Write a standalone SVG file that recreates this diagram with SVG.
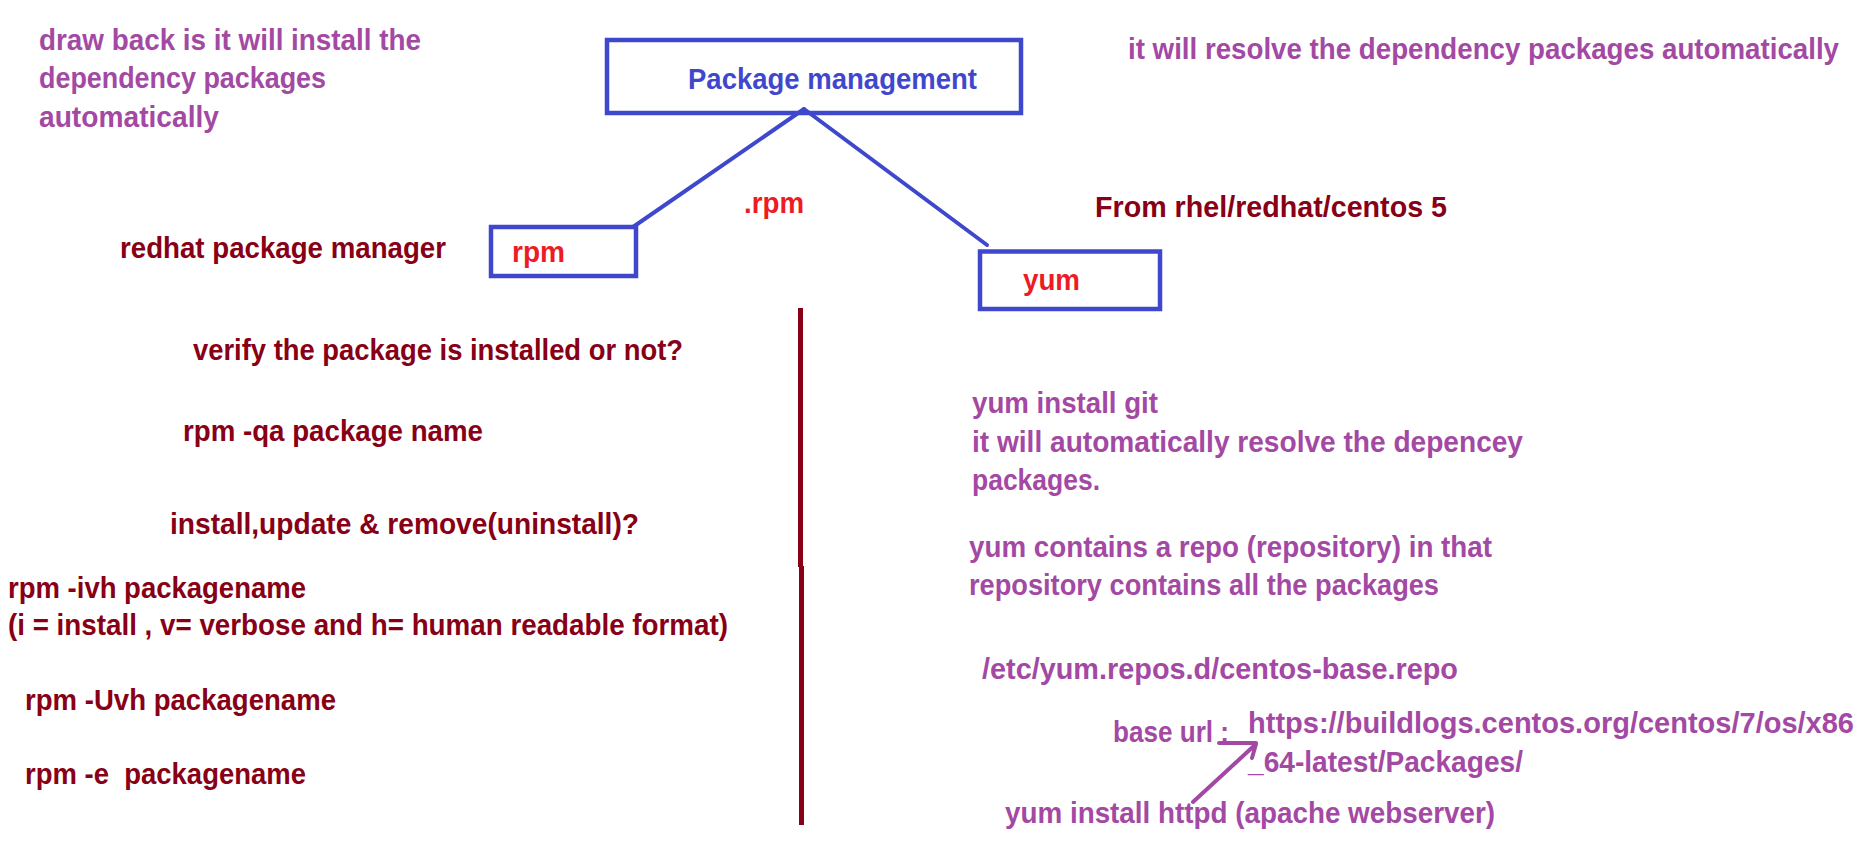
<svg xmlns="http://www.w3.org/2000/svg" width="1871" height="847" viewBox="0 0 1871 847">
<style>
text{font-family:"Liberation Sans",Arial,sans-serif;font-weight:bold;font-size:29px;white-space:pre}
.pu{fill:#A349A4}
.bl{fill:#3F48CC}
.dr{fill:#880015}
.rd{fill:#ED1C24}
.box{fill:none;stroke:#3F48CC;stroke-width:4.5}
.conn{stroke:#3F48CC;stroke-width:4;stroke-linecap:round;fill:none}
.vline{stroke:#880015;stroke-width:5;fill:none}
.arrow{stroke:#A349A4;stroke-width:4;stroke-linecap:round;fill:none}
</style>
<rect width="1871" height="847" fill="#ffffff"/>
<g id="connectors">
<line class="conn" x1="804" y1="109" x2="633" y2="227"/>
<line class="conn" x1="804" y1="109" x2="987" y2="245"/>
<line class="vline" x1="800.5" y1="308" x2="800.5" y2="567"/>
<line class="vline" x1="801.5" y1="566" x2="801.5" y2="825"/>
<path class="arrow" d="M1193 802 L1256 744 M1219 743 L1256 743 M1256 744 L1252 758"/>
</g>
<g id="note-drawback">
<text class="pu" x="39" y="50" textLength="382" lengthAdjust="spacingAndGlyphs">draw back is it will install the</text>
<text class="pu" x="39" y="88" textLength="287" lengthAdjust="spacingAndGlyphs">dependency packages</text>
<text class="pu" x="39" y="127" textLength="180" lengthAdjust="spacingAndGlyphs">automatically</text>
</g>
<g id="node-package-management">
<rect class="box" x="607" y="40" width="414" height="73"/>
<text class="bl" x="688" y="89" textLength="289" lengthAdjust="spacingAndGlyphs">Package management</text>
</g>
<g id="note-resolve">
<text class="pu" x="1128" y="59" textLength="711" lengthAdjust="spacingAndGlyphs">it will resolve the dependency packages automatically</text>
</g>
<g id="label-redhat">
<text class="dr" x="120" y="258" textLength="326" lengthAdjust="spacingAndGlyphs">redhat package manager</text>
</g>
<g id="node-rpm">
<rect class="box" x="491" y="227" width="145" height="49"/>
<text class="rd" x="512" y="262" textLength="53" lengthAdjust="spacingAndGlyphs">rpm</text>
</g>
<g id="label-dotrpm">
<text class="rd" x="744" y="213" textLength="60" lengthAdjust="spacingAndGlyphs">.rpm</text>
</g>
<g id="label-from">
<text class="dr" x="1095" y="217" textLength="352" lengthAdjust="spacingAndGlyphs">From rhel/redhat/centos 5</text>
</g>
<g id="node-yum">
<rect class="box" x="980" y="251.5" width="180" height="57.5"/>
<text class="rd" x="1023" y="290" textLength="57" lengthAdjust="spacingAndGlyphs">yum</text>
</g>
<g id="rpm-notes">
<text class="dr" x="193" y="360" textLength="490" lengthAdjust="spacingAndGlyphs">verify the package is installed or not?</text>
<text class="dr" x="183" y="441" textLength="300" lengthAdjust="spacingAndGlyphs">rpm -qa package name</text>
<text class="dr" x="170" y="534" textLength="469" lengthAdjust="spacingAndGlyphs">install,update &amp; remove(uninstall)?</text>
<text class="dr" x="8" y="598" textLength="298" lengthAdjust="spacingAndGlyphs">rpm -ivh packagename</text>
<text class="dr" x="8" y="635" textLength="720" lengthAdjust="spacingAndGlyphs">(i = install , v= verbose and h= human readable format)</text>
<text class="dr" x="25" y="710" textLength="311" lengthAdjust="spacingAndGlyphs">rpm -Uvh packagename</text>
<text class="dr" x="25" y="784" textLength="281" lengthAdjust="spacingAndGlyphs">rpm -e  packagename</text>
</g>
<g id="yum-notes">
<text class="pu" x="972" y="413" textLength="186" lengthAdjust="spacingAndGlyphs">yum install git</text>
<text class="pu" x="972" y="452" textLength="551" lengthAdjust="spacingAndGlyphs">it will automatically resolve the depencey</text>
<text class="pu" x="972" y="490" textLength="128" lengthAdjust="spacingAndGlyphs">packages.</text>
<text class="pu" x="969" y="557" textLength="523" lengthAdjust="spacingAndGlyphs">yum contains a repo (repository) in that</text>
<text class="pu" x="969" y="595" textLength="470" lengthAdjust="spacingAndGlyphs">repository contains all the packages</text>
<text class="pu" x="982" y="679" textLength="476" lengthAdjust="spacingAndGlyphs">/etc/yum.repos.d/centos-base.repo</text>
<text class="pu" x="1113" y="742" textLength="116" lengthAdjust="spacingAndGlyphs">base url :</text>
<text class="pu" x="1248" y="733" textLength="606" lengthAdjust="spacingAndGlyphs">https://buildlogs.centos.org/centos/7/os/x86</text>
<text class="pu" x="1248" y="772" textLength="275" lengthAdjust="spacingAndGlyphs">_64-latest/Packages/</text>
<text class="pu" x="1005" y="823" textLength="490" lengthAdjust="spacingAndGlyphs">yum install httpd (apache webserver)</text>
</g>
</svg>
